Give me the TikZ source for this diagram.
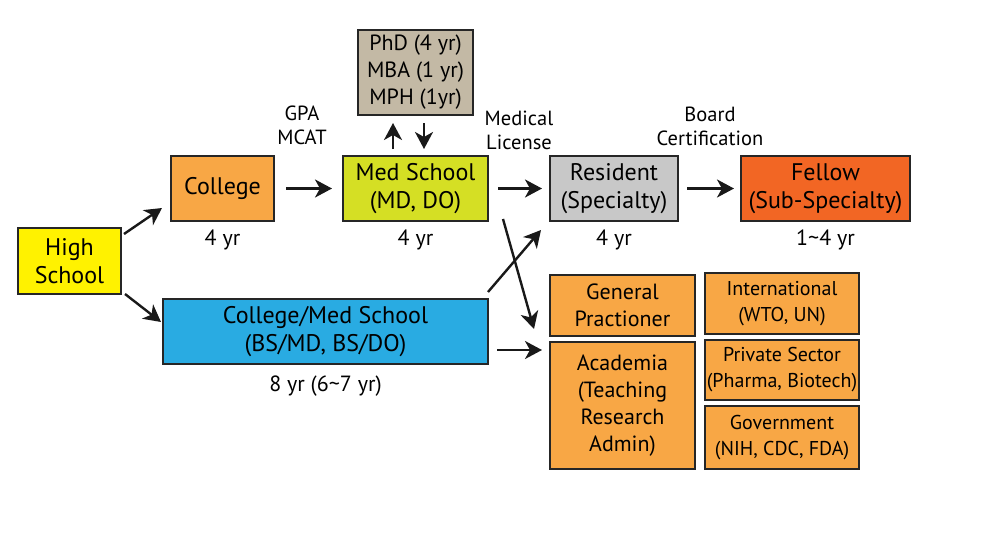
\documentclass[tikz,border=0pt]{standalone}
\usepackage{fontspec}
\setmainfont{PT Sans}
\definecolor{hsyellow}{HTML}{FFF200}
\definecolor{colorange}{HTML}{F8A745}
\definecolor{medgreen}{HTML}{D5DF24}
\definecolor{phdtan}{HTML}{C3B9A5}
\definecolor{resgray}{HTML}{C8C8C8}
\definecolor{felred}{HTML}{F26624}
\definecolor{bsblue}{HTML}{29ABE2}
\usetikzlibrary{arrows.meta,positioning,calc}

\begin{document}
\begin{tikzpicture}[x=1pt,y=1pt,
  box/.style={draw=black!85,line width=2pt,align=center,inner sep=0pt,
    font=\fontsize{24}{28}\selectfont},
  sbox/.style={box,font=\fontsize{22}{27}\selectfont},
  tbox/.style={box,fill=colorange,minimum width=154,font=\fontsize{20}{26}\selectfont},
  arr/.style={-{Stealth[length=17pt,width=18pt,inset=5pt]},line width=2.4pt,black!90},
  lab/.style={align=center,font=\fontsize{20.5}{24}\selectfont},
  yrs/.style={font=\fontsize{22}{25}\selectfont,below=4pt}]
\useasboundingbox (0,0) rectangle (984,-554);
% boxes of the main path
\node[box,fill=hsyellow,minimum width=103,minimum height=66] (hs) at (69.5,-261) {High\\School};
\node[box,fill=colorange,minimum width=103,minimum height=65] (college) at (222.5,-188.5) {College};
\node[box,fill=medgreen,minimum width=145,minimum height=65] (med) at (415.5,-188.5) {Med School\\(MD, DO)};
\node[sbox,fill=phdtan,minimum width=115,minimum height=85] (phd) at (415.5,-72.5) {PhD (4 yr)\\MBA (1 yr)\\MPH (1yr)};
\node[box,fill=resgray,minimum width=128,minimum height=65] (res) at (614,-188.5) {Resident\\(Specialty)};
\node[box,fill=felred,minimum width=169,minimum height=65] (fellow) at (825.5,-188.5) {Fellow\\(Sub-Specialty)};
\node[box,fill=bsblue,minimum width=325,minimum height=65] (bsmd) at (325.5,-331.5) {College/Med School\\(BS/MD, BS/DO)};
% careers
\node[sbox,fill=colorange,minimum width=145,minimum height=61] (gp) at (622.5,-305.5) {General\\Practioner};
\node[sbox,fill=colorange,minimum width=145,minimum height=127] (acad) at (622.5,-405.5) {Academia\\(Teaching\\Research\\Admin)};
\node[tbox,minimum height=61] (intl) at (782,-303.5) {International\\(WTO, UN)};
\node[tbox,minimum height=60] (priv) at (782,-370) {Private Sector\\(Pharma, Biotech)};
\node[tbox,minimum height=63] (gov) at (782,-437.5) {Government\\(NIH, CDC, FDA)};
% years
\node[yrs] (ycol) at (college.south) {4 yr};
\node[yrs] (ymed) at (med.south) {4 yr};
\node[yrs] (yres) at (res.south) {4 yr};
\node[yrs] (yfel) at (fellow.south) {1\char`~4 yr};
\node[yrs,below=7pt] (ybs) at (bsmd.south) {8 yr (6\char`~7 yr)};
% requirements
\node[lab] (gpa) at (302,-125) {GPA\\MCAT};
\node[lab] (lic) at (519,-130) {Medical\\License};
\node[lab] (board) at (710,-126) {Board\\Certification};
% end points of the slanted arrows
\coordinate (hsup) at ($(hs.north east)+(2,-7)$);
\coordinate (colin) at ($(college.south west)+(-8,14)$);
\coordinate (hsdn) at ($(hs.south east)+(3,1)$);
\coordinate (bsin) at ($(bsmd.west)+(-1,9.5)$);
\coordinate (medout) at ($(med.south east)+(14,3)$);
\coordinate (gpin) at ($(gp.south west)+(-15,8)$);
\coordinate (bsout) at ($(bsmd.north east)+(-1,6)$);
\coordinate (resin) at ($(res.south west)+(-8,-8)$);
\coordinate (acadin) at ($(bsmd.east -| acad.west)+(-7,-18.5)$);
\coordinate (bsright) at ($(bsmd.east)+(8,-18.5)$);
% arrows
\draw[arr] (hsup) -- (colin);
\draw[arr] (hsdn) -- (bsin);
\draw[arr,shorten <=11pt,shorten >=10pt] (college) -- (med);
\draw[arr,shorten <=9pt,shorten >=7pt] (med) -- (res);
\draw[arr,shorten <=8pt,shorten >=6pt] (res) -- (fellow);
\draw[arr,shorten <=6pt,shorten >=7pt] ([xshift=-22.5pt]med.north) -- ([xshift=-22.5pt]phd.south);
\draw[arr,shorten <=7pt,shorten >=6pt] ([xshift=8.5pt]phd.south) -- ([xshift=8.5pt]med.north);
\draw[arr] (medout) -- (gpin);
\draw[arr] (bsout) -- (resin);
\draw[arr] (bsright) -- (acadin);
\end{tikzpicture}
\end{document}
